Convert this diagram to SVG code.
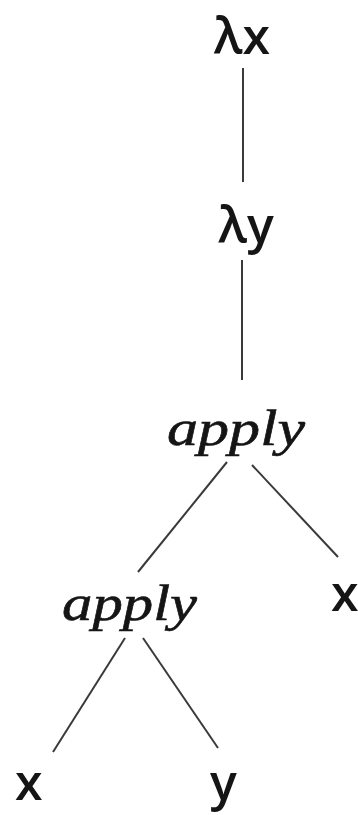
<svg xmlns="http://www.w3.org/2000/svg" width="358" height="815" viewBox="0 0 358 815">
<style>
.sans{font-family:"Open Sans","DejaVu Sans",sans-serif;font-size:50px;font-weight:600;fill:#151515;}
.it{font-family:"Liberation Serif","Times New Roman",serif;font-style:italic;font-size:50px;fill:#151515;stroke:#151515;stroke-width:0.6;}
.edge{stroke:#3a3a3a;stroke-width:2;fill:none;}
</style>
<rect width="358" height="815" fill="#fff"/>
<g id="connectors">
<line class="edge" x1="243" y1="68" x2="243" y2="182"/>
<line class="edge" x1="242" y1="260" x2="242" y2="380"/>
<line class="edge" x1="227" y1="462" x2="138" y2="572"/>
<line class="edge" x1="252" y1="465" x2="338" y2="557"/>
<line class="edge" x1="125" y1="638" x2="53" y2="752"/>
<line class="edge" x1="143" y1="638" x2="218" y2="748"/>
</g>
<g id="lx"><text class="sans" x="242" y="54" text-anchor="middle">λx</text></g>
<g id="ly"><text class="sans" x="246" y="243" text-anchor="middle">λy</text></g>
<g id="apply1"><text class="it" x="167" y="445" textLength="138" lengthAdjust="spacingAndGlyphs">apply</text></g>
<g id="apply2"><text class="it" x="62" y="620" textLength="135" lengthAdjust="spacingAndGlyphs">apply</text></g>
<g id="x1"><text class="sans" x="331" y="611">x</text></g>
<g id="x2"><text class="sans" x="15" y="800">x</text></g>
<g id="y1"><text class="sans" x="210" y="800">y</text></g>
</svg>
